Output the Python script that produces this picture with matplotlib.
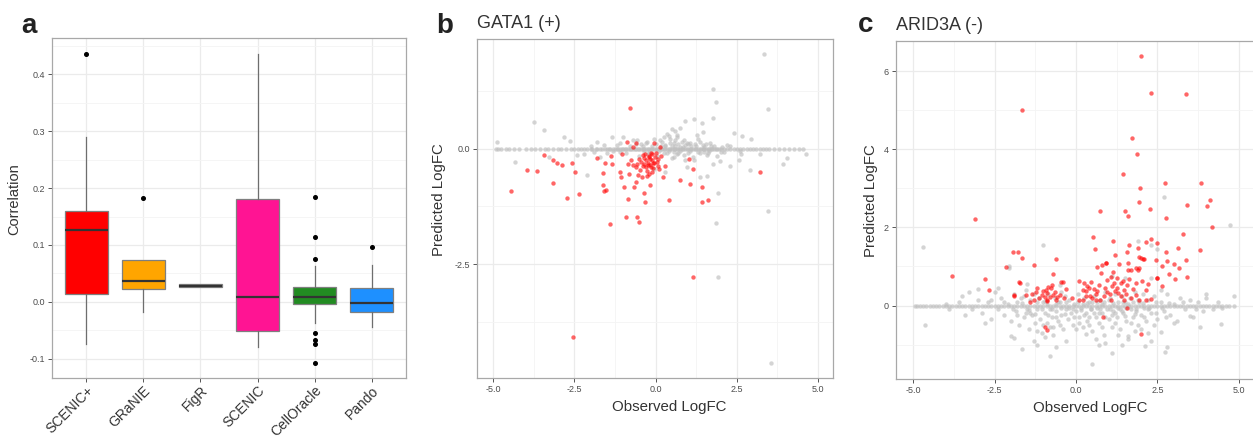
import numpy as np
import matplotlib
matplotlib.use('Agg')
import matplotlib.pyplot as plt
from matplotlib.ticker import MultipleLocator, FormatStrFormatter

plt.rcParams['font.family'] = ['Liberation Sans', 'DejaVu Sans']

# ================================ data ================================ #
methods = ['SCENIC+', 'GRaNIE', 'FigR', 'SCENIC', 'CellOracle', 'Pando']
box_colors = ['#FF0000', '#FFA500', '#5B3A7A', '#FF1493', '#228B22', '#1E90FF']
q1 = [0.014, 0.023, 0.026, -0.051, -0.004, -0.018]
medians = [0.127, 0.036, 0.028, 0.009, 0.009, -0.002]
q3 = [0.159, 0.073, 0.031, 0.180, 0.026, 0.025]
whisk_lo = [-0.075, -0.018, 0.026, -0.079, -0.037, -0.044]
whisk_hi = [0.290, 0.073, 0.031, 0.436, 0.063, 0.064]
outliers = [[0.436], [0.183], [], [], [0.184, 0.114, 0.076, -0.055, -0.067, -0.074, -0.107], [0.097]]

# GATA1: genes with predicted LogFC of zero (observed LogFC only)
gata1_zero_x = [-4.9, -4.85, -4.75, -4.6, -4.5, -4.35, -4.2, -4.0, -3.85, -3.7, -3.55, -3.4, -3.3,
                -3.15, -3.0, -2.9, -2.75, -2.6, -2.5, -2.4, -2.3, -2.2, -2.1, -2.0, -1.95, -1.85,
                -1.8, -1.7, -1.65, -1.55, -1.5, -1.45, -1.4, -1.3, -1.25, -1.2, -1.15, -1.1, -1.05,
                -1.0, -0.95, -0.9, -0.85, -0.8, -0.75, -0.7, -0.65, -0.6, -0.55, -0.5, -0.45, -0.4,
                -0.35, -0.3, -0.25, -0.2, -0.15, -0.1, -0.05, 0.0, 0.05, 0.1, 0.15, 0.2, 0.25, 0.3,
                0.35, 0.4, 0.45, 0.5, 0.55, 0.6, 0.65, 0.7, 0.75, 0.8, 0.85, 0.9, 0.95, 1.0, 1.05,
                1.1, 1.15, 1.2, 1.25, 1.3, 1.35, 1.4, 1.45, 1.5, 1.55, 1.6, 1.65, 1.7, 1.75, 1.8,
                1.85, 1.9, 1.95, 2.0, 2.1, 2.2, 2.3, 2.4, 2.5, 2.6, 2.7, 2.8, 2.9, 3.0, 3.1, 3.2,
                3.3, 3.4, 3.5, 3.65, 3.8, 3.95, 4.1, 4.25, 4.4, 4.55]
gata1_grey = [(3.35, 2.06), (1.76, 1.29), (1.86, 1.02), (3.45, 0.86), (-3.73, 0.59), (-3.45, 0.40),
              (0.91, 0.60), (1.19, 0.64), (1.42, 0.56), (1.76, 0.66), (2.42, 0.35), (2.65, 0.27),
              (2.95, 0.21), (3.45, -1.36), (1.86, -1.60), (1.93, -2.77), (3.55, -4.64), (1.93, -0.95),
              (3.93, -0.32), (4.04, -0.19), (4.63, -0.12), (-4.88, 0.15), (-4.33, -0.28), (-2.81, 0.26),
              (-2.64, 0.16), (-1.34, 0.26), (-1.80, 0.15), (0.60, 0.38), (0.35, 0.33), (0.66, 0.30),
              (1.27, 0.30), (1.45, 0.37), (1.58, -0.59), (1.37, -0.62), (2.91, -0.45), (2.57, -0.25),
              (2.64, -0.12), (2.30, -0.38), (1.99, -0.27), (1.78, -0.33), (1.58, -0.14), (3.22, -0.12),
              (-2.11, -0.57), (-2.42, -0.14), (-3.29, -0.17), (-1.70, -0.17), (-1.09, 0.12), (-0.06, -0.43),
              (0.30, -0.50), (0.14, 0.19), (0.45, 0.22), (0.86, 0.19), (1.07, 0.13), (1.37, 0.15),
              (1.68, 0.12), (2.04, 0.04), (-0.06, 0.22), (-0.27, 0.15), (-0.57, 0.19), (0.55, -0.17),
              (0.86, -0.14), (1.17, -0.25), (0.96, -0.39), (1.48, -0.07), (0.55, 0.12), (0.76, 0.04),
              (-1.2, 0.08), (-0.9, -0.1), (-0.6, 0.1), (-0.4, 0.05), (-0.3, 0.12), (-0.2, -0.08),
              (0.0, 0.1), (0.1, -0.05), (0.2, 0.15), (0.3, 0.08), (0.35, -0.1), (0.45, 0.12), (0.5, 0.05),
              (0.55, -0.08), (0.6, 0.2), (0.7, 0.1), (0.75, -0.05), (0.8, 0.15), (0.9, 0.08), (1.0, -0.1),
              (1.1, 0.05), (1.2, 0.1), (1.3, -0.06), (1.45, 0.08), (1.6, -0.1), (1.7, 0.06), (1.9, -0.15),
              (2.1, -0.08), (2.3, 0.05), (2.6, -0.05), (0.25, 0.25), (0.4, 0.28), (0.65, 0.25), (0.5, -0.2),
              (0.9, -0.25), (1.15, -0.18), (1.3, 0.22), (-0.5, -0.15), (-0.7, 0.2), (-1.5, -0.1),
              (-1.9, -0.08), (-2.2, -0.12), (-1.0, 0.25), (0.05, -0.15), (0.15, 0.05), (-2.0, 0.05),
              (-1.6, 0.08), (-1.3, -0.05), (0.25, -0.1), (0.65, -0.12), (1.0, 0.1), (1.55, 0.1),
              (0.3, 0.05), (0.4, -0.05), (0.6, 0.07), (0.7, -0.1), (0.85, 0.04), (0.95, 0.12), (1.05, -0.04),
              (1.25, 0.06), (1.35, -0.1), (1.5, 0.04), (1.65, -0.05), (1.8, 0.07), (2.0, -0.06), (2.2, 0.08),
              (-0.1, 0.07), (-0.35, -0.05), (-0.8, 0.06), (-1.1, -0.06), (0.5, 0.42), (0.75, 0.45),
              (-0.25, -0.12), (-0.45, 0.1)]
gata1_red = [(-0.80, 0.89), (-2.55, -4.09), (1.14, -2.77), (-4.45, -0.92), (-3.97, -0.46), (-3.65, -0.48),
             (-3.44, -0.14), (-3.17, -0.74), (-3.17, -0.25), (-3.05, -0.30), (-2.89, -0.35), (-2.73, -1.07),
             (-2.56, -0.30), (-2.47, -0.50), (-2.35, -0.97), (-1.82, -0.20), (-1.63, -0.53), (-1.63, -0.79),
             (-1.60, -0.92), (-1.53, -0.90), (-1.40, -1.64), (-1.57, -0.30), (-1.39, -0.15), (-1.34, -0.34),
             (-1.09, -0.51), (-1.06, -0.61), (-1.04, -0.12), (-0.97, -0.82), (-0.91, -1.48), (-0.86, -1.08),
             (-0.88, 0.14), (-0.86, -0.33), (-0.81, -0.54), (-0.76, -0.25), (-0.71, 0.04), (-0.68, -0.82),
             (-0.62, -0.73), (-0.60, 0.12), (-0.57, -1.49), (-0.50, -1.59), (-0.57, -0.34), (-0.55, -0.57),
             (-0.47, -0.46), (-0.42, -0.62), (-0.37, -0.95), (-0.34, -1.16), (-0.39, -0.14), (-0.37, -0.32),
             (-0.31, -0.25), (-0.27, -0.59), (-0.24, -0.35), (-0.20, -0.17), (-0.18, -0.79), (-0.16, -0.23),
             (-0.14, -0.39), (-0.11, -0.12), (-0.09, -0.30), (-0.06, 0.12), (-0.03, -0.17), (0.0, -0.09),
             (0.06, -0.22), (0.11, -0.44), (0.14, 0.04), (0.16, -0.16), (0.23, -0.61), (0.30, -0.37),
             (0.40, -1.11), (0.74, -0.68), (1.02, -0.22), (1.07, -0.77), (1.15, -0.43), (1.42, -0.82),
             (1.44, -1.15), (1.60, -1.11), (3.22, -0.51), (-0.45, -0.28), (-0.35, -0.20), (-0.30, -0.40),
             (-0.25, -0.30), (-0.22, -0.15), (-0.18, -0.35), (-0.12, -0.25), (-0.08, -0.42), (-0.05, -0.30),
             (-0.28, -0.48), (-0.40, -0.38), (-0.15, -0.10), (-0.32, -0.12), (0.03, -0.28), (-0.60, -0.40),
             (-0.70, -0.35), (-0.52, -0.22), (0.08, -0.38), (-0.20, -0.55), (-0.10, -0.50)]

# ARID3A
arid3a_zero_x = [-4.95, -4.9, -4.8, -4.7, -4.6, -4.5, -4.4, -4.3, -4.2, -4.1, -4.0, -3.9, -3.8, -3.7,
                 -3.6, -3.5, -3.4, -3.3, -3.2, -3.1, -3.0, -2.9, -2.8, -2.7, -2.6, -2.5, -2.4, -2.3,
                 -2.2, -2.1, -2.0, -1.9, -1.8, -1.7, -1.6, -1.5, -1.4, -1.3, -1.2, -1.1, -1.0, -0.9,
                 -0.8, -0.7, -0.6, -0.5, -0.4, -0.3, -0.2, -0.1, 0.0, 0.1, 0.2, 0.3, 0.4, 0.5, 0.6,
                 0.7, 0.8, 0.9, 1.0, 1.1, 1.2, 1.3, 1.4, 1.5, 1.6, 1.7, 1.8, 1.9, 2.0, 2.1, 2.2, 2.3,
                 2.4, 2.5, 2.6, 2.7, 2.8, 2.9, 3.0, 3.1, 3.2, 3.3, 3.4, 3.5, 3.6, 3.7, 3.8, 3.9, 4.0,
                 4.1, 4.2, 4.3, 4.4, 4.5, 4.6, 4.7, 4.85]
arid3a_grey = [(-3.5, 0.25), (-3.3, 0.35), (-3.2, -0.1), (-3.0, 0.15), (-2.9, -0.2), (-2.7, 0.1), (-2.6, -0.35),
               (-2.5, 0.35), (-2.4, -0.1), (-2.3, 0.2), (-2.2, -0.25), (-2.1, 0.05), (-2.05, 0.95), (-2.0, -0.4),
               (-1.9, 0.3), (-1.85, -0.15), (-1.8, 0.1), (-1.75, -0.5), (-1.7, 0.2), (-1.6, -0.3), (-1.55, 0.4),
               (-1.5, -0.1), (-1.45, -0.6), (-1.4, 0.15), (-1.35, -0.25), (-1.3, 0.3), (-1.25, -0.45), (-1.2, -0.1),
               (-1.15, 0.2), (-1.1, -0.35), (-1.05, -0.7), (-1.0, 0.1), (-0.95, -0.2), (-0.9, -0.45), (-0.85, 0.3),
               (-0.8, -0.1), (-0.75, -0.3), (-0.7, -0.55), (-0.65, 0.2), (-0.6, -0.15), (-0.55, -0.4), (-0.5, 0.1),
               (-0.45, -0.25), (-0.4, -0.6), (-0.35, 0.25), (-0.3, -0.1), (-0.25, -0.35), (-0.2, 0.15), (-0.15, -0.2),
               (-0.1, -0.5), (-0.05, 0.05), (0.0, -0.15), (0.05, 0.3), (0.1, -0.3), (0.15, -0.05), (0.2, -0.55),
               (0.25, 0.2), (0.3, -0.2), (0.35, -0.4), (0.4, 0.1), (0.45, -0.1), (0.5, -0.65), (0.55, 0.25),
               (0.6, -0.3), (0.65, -0.05), (0.7, -0.45), (0.75, 0.15), (0.8, -0.2), (0.85, -0.75), (0.9, 0.35),
               (0.95, -0.1), (1.0, -0.35), (1.05, 0.2), (1.1, -0.55), (1.15, -0.15), (1.2, 0.3), (1.25, -0.3),
               (1.3, -0.05), (1.35, -0.6), (1.4, 0.25), (1.45, -0.2), (1.5, 0.1), (1.55, -0.4), (1.6, -0.85),
               (1.65, 0.2), (1.7, -0.1), (1.75, -0.3), (1.8, 0.35), (1.85, -0.15), (1.9, -0.5), (1.95, 0.1),
               (2.0, -0.25), (2.05, 0.3), (2.1, -0.05), (2.15, -0.4), (2.2, 0.15), (2.3, -0.2), (2.4, 0.25),
               (2.5, -0.35), (2.6, 0.1), (2.7, -0.15), (2.8, 0.3), (2.9, -0.25), (3.0, 0.05), (3.1, -0.4),
               (3.2, 0.2), (3.35, -0.1), (3.5, 0.15), (3.6, -0.3), (3.75, 0.1), (3.9, -0.15), (4.0, 0.2),
               (4.2, -0.1), (4.35, 0.1), (4.5, -0.05), (-4.71, 1.51), (-4.65, -0.51), (-1.0, 1.54), (2.70, 2.79),
               (4.73, 2.05), (4.84, 0.25), (4.45, -0.47), (0.50, -1.49), (1.12, -1.22), (2.11, -1.04),
               (2.72, -1.18), (2.80, -1.07), (-1.65, -1.12), (-0.81, -1.30), (-1.2, -1.0), (-2.0, -0.79),
               (-1.9, -0.82), (-1.3, -0.9), (-0.95, -0.8), (0.3, -0.72), (0.6, -0.85), (1.6, -0.78),
               (2.6, -0.68), (3.0, -0.45), (3.5, -0.28), (-3.0, 0.42), (-2.05, 1.0), (2.3, 1.55), (1.9, 1.65),
               (2.5, 1.45), (1.1, 0.75), (1.5, 0.7), (2.3, 0.7), (-0.5, 0.52), (-1.5, 0.55), (0.7, -1.0),
               (0.9, -0.95), (-0.3, -0.9), (-0.6, -1.05), (2.3, -0.9), (1.4, -1.0), (3.8, -0.55), (4.0, 0.3),
               (-4.0, 0.05), (-3.9, -0.1), (-3.6, 0.1), (-3.4, -0.25), (-2.8, -0.45), (-2.4, 0.45),
               (-0.9, 0.05), (-0.6, 0.05), (-0.2, -0.05), (0.2, 0.05), (0.5, 0.1), (0.8, 0.05), (1.0, 0.15),
               (1.3, 0.1), (1.6, 0.05), (1.9, 0.15), (2.2, -0.1), (0.4, -0.3), (0.7, -0.2), (1.1, -0.25),
               (1.4, -0.15), (1.7, -0.45), (2.0, -0.6), (-0.5, -0.5), (-1.0, -0.5), (-1.4, -0.2), (-0.7, -0.75),
               (0.1, -0.45), (1.2, -0.45), (2.4, -0.5),
               (-1.95, -0.08), (-1.65, 0.07), (-1.45, -0.12), (-1.2, 0.08), (-1.05, -0.1), (-0.95, 0.12),
               (-0.75, -0.08), (-0.55, 0.1), (-0.45, -0.07), (-0.3, 0.08), (-0.1, -0.1), (0.05, 0.08),
               (0.15, -0.12), (0.35, 0.07), (0.45, -0.08), (0.65, 0.1), (0.75, -0.1), (0.85, 0.08),
               (1.05, -0.08), (1.15, 0.07), (1.35, -0.1), (1.45, 0.08), (1.55, -0.06), (1.75, 0.1),
               (1.85, -0.08), (2.05, 0.07), (2.25, -0.07), (2.45, 0.08), (2.65, -0.06), (2.85, 0.07),
               (-1.8, -0.25), (-1.55, -0.2), (-1.25, -0.22), (-0.85, -0.25), (-0.6, -0.3), (-0.35, -0.22),
               (-0.05, -0.3), (0.25, -0.25), (0.55, -0.2), (0.9, -0.3), (1.2, -0.2), (1.5, -0.28),
               (1.8, -0.22), (2.1, -0.3), (2.45, -0.2), (2.75, -0.3), (-1.2, -0.65), (-0.8, -0.55),
               (0.0, -0.6), (0.4, -0.5), (0.8, -0.55), (1.3, -0.75), (1.8, -0.65), (2.2, -0.7),
               (-2.6, 0.15), (-2.2, 0.1), (3.3, 0.1), (3.7, -0.08), (-1.6, 0.25), (-0.45, 0.35), (2.6, 0.4)]
arid3a_red = [(2.01, 6.40), (2.30, 5.44), (3.39, 5.42), (-1.67, 5.00), (1.73, 4.30), (1.86, 3.88), (1.43, 3.37),
              (2.73, 3.14), (3.84, 3.15), (1.96, 3.00), (1.95, 2.65), (4.13, 2.71), (3.40, 2.58), (4.01, 2.56),
              (0.75, 2.43), (1.51, 2.42), (2.28, 2.47), (1.60, 2.28), (2.76, 2.24), (-3.09, 2.22), (4.17, 2.00),
              (3.28, 1.83), (0.53, 1.76), (2.30, 1.71), (2.16, 1.63), (1.14, 1.64), (2.49, 1.59), (1.64, 1.54),
              (1.91, 1.48), (0.58, 1.45), (3.13, 1.48), (3.80, 1.42), (-1.94, 1.37), (-1.77, 1.36), (2.77, 1.37),
              (1.56, 1.38), (1.20, 1.29), (1.93, 1.25), (2.05, 1.20), (-1.66, 1.22), (-0.60, 1.19), (2.47, 1.16),
              (3.37, 1.17), (2.81, 1.14), (1.33, 1.07), (-1.29, 1.03), (0.93, 1.08), (0.79, 1.05), (0.66, 0.98),
              (3.02, 1.06), (2.65, 1.02), (3.15, 0.97), (-2.14, 0.98), (1.83, 0.95), (1.95, 0.96), (1.60, 0.90),
              (-0.72, 0.81), (2.85, 0.81), (-3.81, 0.75), (3.42, 0.73), (3.03, 0.69), (-2.79, 0.67), (2.50, 0.70),
              (-1.73, 0.59), (-2.66, 0.40), (-0.88, 0.12), (-0.94, -0.55), (-0.90, -0.62), (2.01, -0.72),
              (-1.91, 0.26), (-1.75, 0.60), (-1.89, 0.24), (-1.55, 0.28), (-1.19, 0.46), (-1.22, 0.34),
              (-1.00, 0.36), (-0.96, 0.23), (-0.88, 0.15), (-0.73, 0.53), (-0.70, 0.27), (-0.62, 0.14),
              (-0.47, 0.61), (-0.39, 0.61), (-0.50, 0.27), (-0.37, 0.19), (-0.11, 0.19), (-1.41, 0.10),
              (-1.29, 0.14), (-1.13, 0.19), (-0.93, 0.40), (-0.88, 0.32), (-0.80, 0.21), (-0.57, 0.23),
              (-0.78, 0.44), (0.10, 0.62), (0.25, 0.59), (0.35, 0.50), (0.45, 0.61), (0.20, 0.39), (0.30, 0.37),
              (0.20, 0.15), (0.10, 0.15), (0.55, 0.42), (0.66, 0.36), (0.71, 0.53), (0.76, 0.83), (0.91, 1.08),
              (0.96, 0.66), (1.07, 0.74), (1.12, 0.49), (1.17, 0.57), (1.20, 0.36), (1.27, 0.70), (1.37, 0.57),
              (1.48, 0.40), (1.58, 0.53), (1.63, 0.67), (1.83, 0.57), (1.60, 1.08), (1.68, 0.91), (1.89, 0.92),
              (1.99, 1.23), (2.09, 1.19), (2.04, 0.62), (2.14, 0.40), (2.29, 0.17), (2.50, 0.70), (2.65, 0.49),
              (1.83, 0.28), (1.37, 0.24), (0.86, 0.24), (0.50, 0.19), (1.58, -0.07), (0.84, -0.29), (0.43, 0.24),
              (0.74, 0.15), (1.07, 0.15), (1.48, 0.15), (1.68, 0.19), (1.94, 0.15), (2.14, 0.15), (0.60, 0.15),
              (0.95, 0.35), (1.25, 0.45), (1.05, 0.30), (0.40, 0.45), (1.45, 0.62), (1.15, 0.85),
              (-1.05, 0.28), (-0.85, 0.48), (-0.65, 0.35), (-1.35, 0.3), (-0.3, 0.42), (0.3, 0.25),
              (0.6, 0.3), (0.9, 0.45), (1.3, 0.32), (1.55, 0.3), (1.75, 0.42), (2.2, 0.55)]

# ================================ style ================================ #
W, H = 1253, 438
fig = plt.figure(figsize=(W / 100, H / 100), dpi=100)
tick_col = '#4D4D4D'
title_col = '#333333'


def style_axes(ax):
    ax.set_facecolor('white')
    for sp in ax.spines.values():
        sp.set_color('#A8A8A8')
        sp.set_linewidth(0.9)
    ax.grid(which='major', color='#EBEBEB', linewidth=0.9, zorder=0)
    ax.grid(which='minor', color='#F4F4F4', linewidth=0.6, zorder=0)
    ax.set_axisbelow(True)
    ax.tick_params(which='major', length=3, width=0.7, color='#555555', labelsize=6.5,
                   labelcolor=tick_col, pad=2)
    ax.tick_params(which='minor', length=0)


def ax_rect(left, top, right, bottom):
    return [left / W, 1 - bottom / H, (right - left) / W, (bottom - top) / H]


# ================================ a: boxplot ================================ #
ax1 = fig.add_axes(ax_rect(52, 38, 406, 378))
style_axes(ax1)
stats = []
for i in range(len(methods)):
    stats.append(dict(med=medians[i], q1=q1[i], q3=q3[i], whislo=whisk_lo[i],
                      whishi=whisk_hi[i], fliers=outliers[i], label=methods[i]))
positions = np.arange(1, len(methods) + 1)
bp = ax1.bxp(stats, positions=positions, widths=0.75, patch_artist=True, showcaps=False,
             boxprops=dict(edgecolor='#7F7F7F', linewidth=0.9),
             whiskerprops=dict(color='#6E6E6E', linewidth=0.9),
             medianprops=dict(color='#333333', linewidth=1.6),
             flierprops=dict(marker='o', markersize=2.6, markerfacecolor='black',
                             markeredgecolor='black'))
for patch, c in zip(bp['boxes'], box_colors):
    patch.set_facecolor(c)
for k in ['boxes', 'whiskers', 'medians', 'fliers']:
    for art in bp[k]:
        art.set_zorder(3)
ax1.set_xlim(0.4, 6.6)
ax1.set_ylim(-0.134, 0.464)
ax1.yaxis.set_major_locator(MultipleLocator(0.1))
ax1.yaxis.set_minor_locator(MultipleLocator(0.05))
ax1.yaxis.set_major_formatter(FormatStrFormatter('%.1f'))
ax1.set_xticks(positions)
ax1.set_xticklabels(methods, rotation=45, ha='right', va='top', rotation_mode='anchor',
                    fontsize=10, color=title_col)
ax1.tick_params(axis='x', pad=1)
ax1.set_ylabel('Correlation', fontsize=10.5, color=title_col)
ax1.yaxis.set_label_coords(-0.088, 0.527)


# ================================ b / c: scatter ================================ #
def scatter_panel(ax, zero_x, grey, red):
    style_axes(ax)
    ax.scatter(zero_x, np.zeros(len(zero_x)), s=10, color='#BEBEBE', alpha=0.65,
               linewidths=0, zorder=2)
    gx, gy = zip(*grey)
    ax.scatter(gx, gy, s=10, color='#BEBEBE', alpha=0.65, linewidths=0, zorder=2)
    rx, ry = zip(*red)
    ax.scatter(rx, ry, s=10, color='#FF0000', alpha=0.6, linewidths=0, zorder=3)
    ax.xaxis.set_major_locator(MultipleLocator(2.5))
    ax.xaxis.set_minor_locator(MultipleLocator(1.25))
    ax.xaxis.set_major_formatter(FormatStrFormatter('%.1f'))
    ax.set_xlabel('Observed LogFC', fontsize=10.8, color=title_col)
    ax.set_ylabel('Predicted LogFC', fontsize=10.8, color=title_col)


ax2 = fig.add_axes(ax_rect(477, 39, 833, 378))
scatter_panel(ax2, gata1_zero_x, gata1_grey, gata1_red)
ax2.set_xlim(-5.5, 5.46)
ax2.set_ylim(-4.97, 2.38)
ax2.yaxis.set_major_locator(MultipleLocator(2.5))
ax2.yaxis.set_minor_locator(MultipleLocator(1.25))
ax2.yaxis.set_major_formatter(FormatStrFormatter('%.1f'))
ax2.xaxis.set_label_coords(0.54, -0.065)
ax2.yaxis.set_label_coords(-0.087, 0.527)

ax3 = fig.add_axes(ax_rect(895.7, 40.7, 1255, 379))
scatter_panel(ax3, arid3a_zero_x, arid3a_grey, arid3a_red)
ax3.set_xlim(-5.54, 5.5)
ax3.set_ylim(-1.88, 6.78)
ax3.yaxis.set_major_locator(MultipleLocator(2))
ax3.yaxis.set_minor_locator(MultipleLocator(1))
ax3.yaxis.set_major_formatter(FormatStrFormatter('%d'))
ax3.xaxis.set_label_coords(0.54, -0.065)
ax3.yaxis.set_label_coords(-0.049, 0.527)

# panel letters and titles
fig.text(21 / W, 1 - 33 / H, 'a', fontsize=20, fontweight='bold', color='#222222')
fig.text(436 / W, 1 - 33 / H, 'b', fontsize=20, fontweight='bold', color='#222222')
fig.text(858 / W, 1 - 32 / H, 'c', fontsize=20, fontweight='bold', color='#222222')
fig.text(477 / W, 1 - 28 / H, 'GATA1 (+)', fontsize=13, color=title_col)
fig.text(896 / W, 1 - 30 / H, 'ARID3A (-)', fontsize=13, color=title_col)

fig.savefig('out.png', dpi=100)
